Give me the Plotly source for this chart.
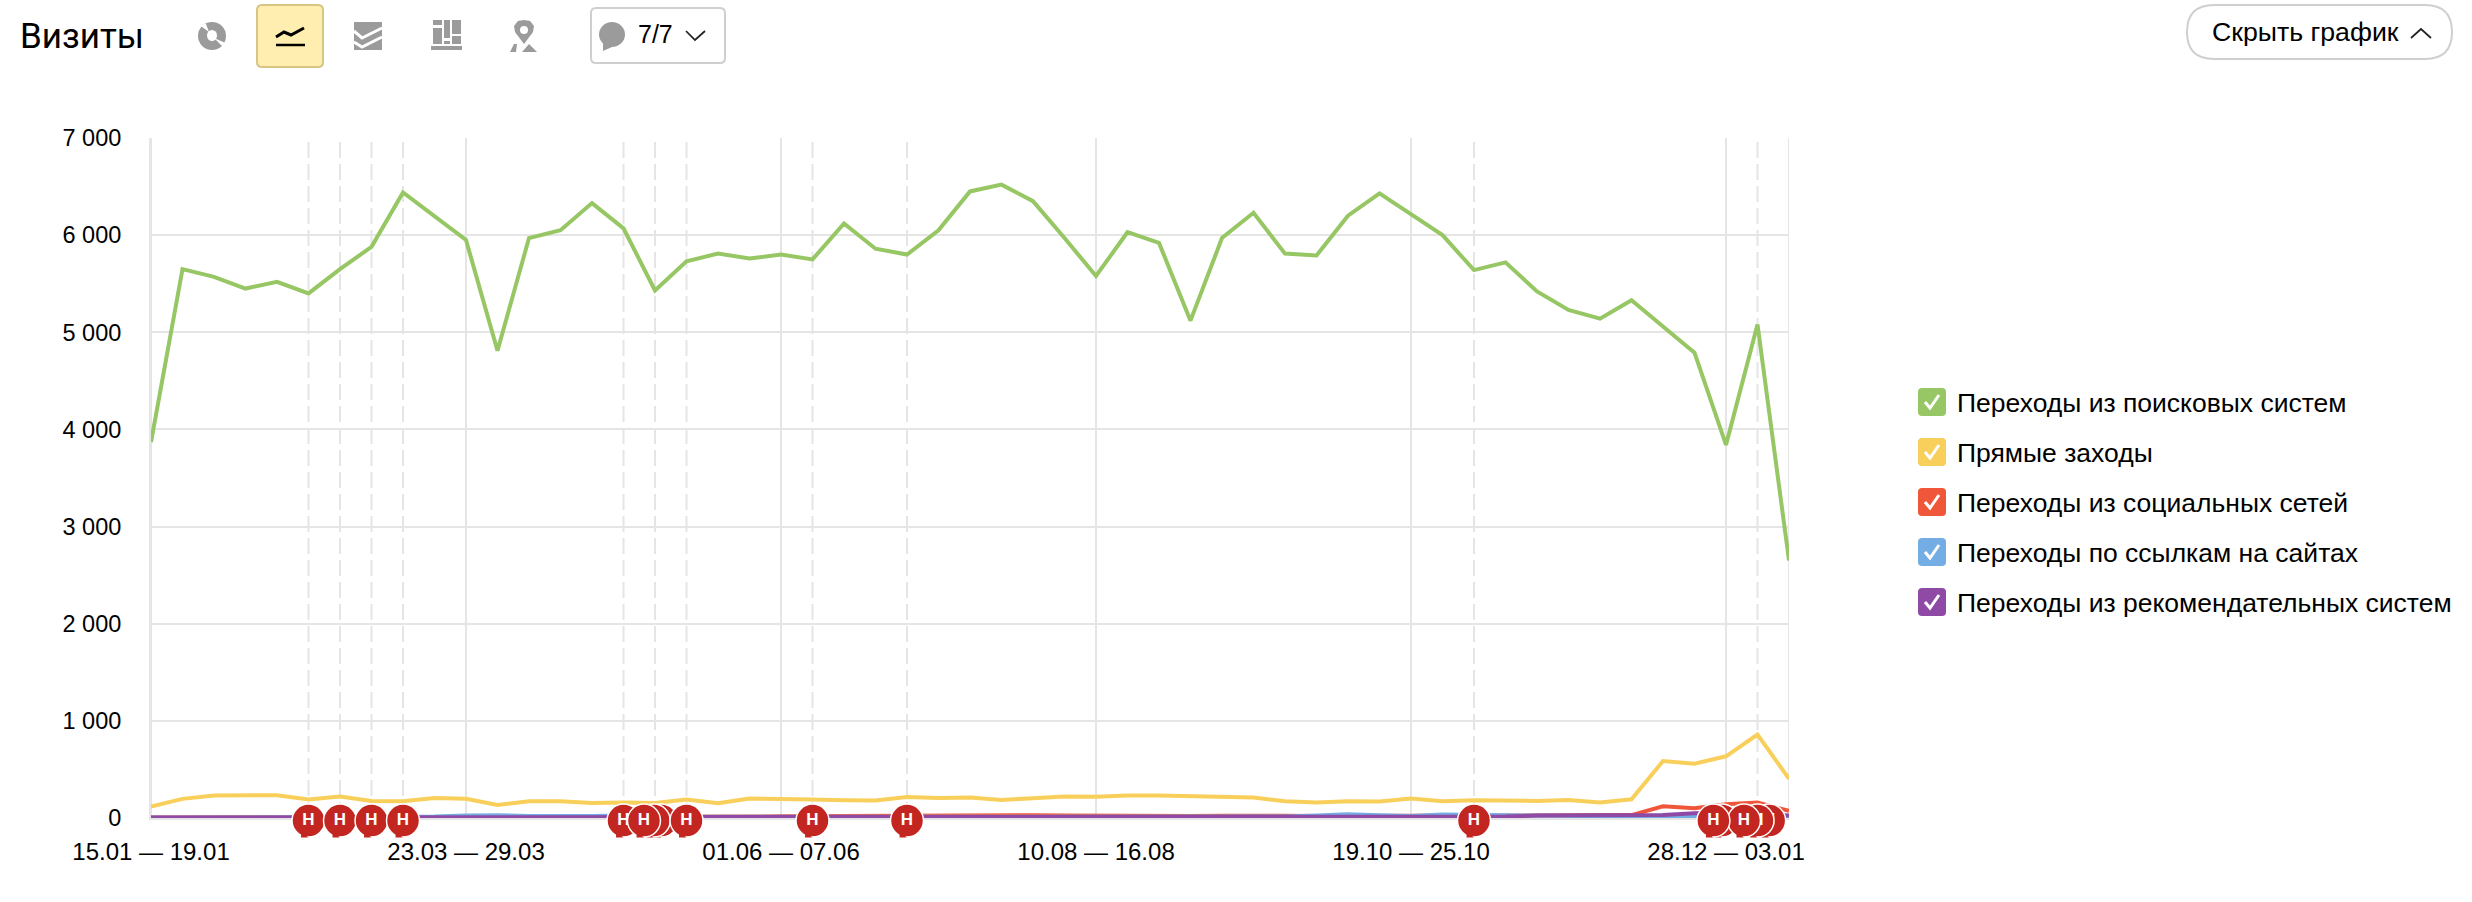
import plotly.graph_objects as go

W, H = 2472, 902
PL, PR, PT, PB = 151, 1789, 138, 818

WEEK_INDEX = list(range(53))
TICK_INDEX = [0, 10, 20, 30, 40, 50]
TICK_LABELS = ["15.01 — 19.01", "23.03 — 29.03", "01.06 — 07.06", "10.08 — 16.08", "19.10 — 25.10", "28.12 — 03.01"]
Y_TICKS = [0, 1000, 2000, 3000, 4000, 5000, 6000, 7000]
Y_LABELS = ["0", "1 000", "2 000", "3 000", "4 000", "5 000", "6 000", "7 000"]

SEARCH = [3870, 5650, 5570, 5450, 5520, 5400, 5650, 5880, 6440, 6200, 5950, 4810, 5970, 6050, 6330, 6070, 5430, 5730,
          5810, 5760, 5800, 5750, 6120, 5860, 5800, 6050, 6450, 6520, 6350, 5970, 5580, 6030, 5920, 5120, 5970, 6230,
          5810, 5790, 6200, 6430, 6220, 6000, 5640, 5720, 5420, 5230, 5140, 5330, 5060, 4790, 3840, 5080, 2650]
DIRECT = [117, 197, 231, 231, 235, 190, 221, 176, 172, 207, 197, 135, 172, 172, 155, 159, 155, 190, 152, 200, 200, 190,
          183, 180, 217, 207, 210, 186, 204, 221, 218, 231, 231, 224, 224, 210, 172, 159, 172, 169, 200, 172, 183, 176,
          176, 186, 159, 193, 586, 559, 635, 859, 404]
SOCIAL = [5, 5, 8, 8, 8, 8, 8, 8, 8, 10, 12, 10, 10, 10, 10, 12, 12, 12, 12, 15, 18, 20, 22, 25, 28, 25, 32, 28, 28, 25,
          22, 18, 20, 20, 22, 25, 22, 20, 20, 20, 25, 20, 20, 22, 25, 28, 25, 30, 121, 100, 142, 159, 73]
LINKS = [2, 5, 8, 10, 10, 8, 8, 8, 10, 15, 25, 28, 20, 18, 20, 25, 15, 12, 12, 15, 12, 12, 12, 12, 12, 12, 12, 12, 12,
         12, 10, 10, 10, 10, 12, 12, 15, 25, 38, 28, 20, 35, 32, 25, 18, 15, 15, 15, 14, 10, 12, 15, 10]
RECOMMEND = [5, 5, 6, 6, 6, 6, 6, 6, 6, 7, 7, 7, 7, 7, 8, 8, 8, 8, 8, 10, 10, 10, 10, 10, 10, 10, 10, 10, 10, 8, 8, 8, 8,
             10, 10, 10, 10, 10, 10, 10, 10, 10, 10, 15, 25, 28, 30, 30, 30, 50, 60, 50, 25]

SERIES_NAMES = ["Переходы из поисковых систем", "Прямые заходы", "Переходы из социальных сетей",
                "Переходы по ссылкам на сайтах", "Переходы из рекомендательных систем"]
SERIES_VALUES = [SEARCH, DIRECT, SOCIAL, LINKS, RECOMMEND]
SERIES_COLORS = ["#97c664", "#f9cf5b", "#f0563a", "#74ade3", "#8e4aa5"]

EVENT_LINES = [5, 6, 7, 8, 15, 16, 17, 21, 24, 42, 51]
# drawing order: first is at the back
BUBBLE_X = [5, 6, 7, 8, 16.2, 15.96, 15, 15.65, 17, 21, 24, 42, 51.37, 51.0, 49.87, 50.57, 49.6]
BUBBLE_LABEL = "Н"

GRID = "#e5e5e5"
FONT = "Liberation Sans"
BUBBLE_RED = "#c32620"


def px(x):
    return x / W


def py(y):
    return 1 - y / H


fig = go.Figure()
for name, vals, col in zip(SERIES_NAMES, SERIES_VALUES, SERIES_COLORS):
    fig.add_trace(go.Scatter(x=WEEK_INDEX, y=vals, name=name, mode="lines", showlegend=False,
                             line=dict(color=col, width=4), cliponaxis=False))

# comment bubbles live on a hidden helper axis that reaches below the zero line;
# one trace each, so that a bubble in front hides the letter of the one behind it
for b in BUBBLE_X:
    fig.add_trace(go.Scatter(x=[b], y=[0.49], yaxis="y2", mode="markers+text", showlegend=False,
                             text=[BUBBLE_LABEL], textposition="middle center", cliponaxis=False,
                             textfont=dict(family=FONT, size=17, color="white", weight="bold"),
                             marker=dict(symbol="circle", size=33, color=BUBBLE_RED, line=dict(color="white", width=1.5))))
    fig.add_trace(go.Scatter(x=[b - 0.16], y=[0.25], yaxis="y2", mode="markers", showlegend=False,
                             hoverinfo="skip", cliponaxis=False,
                             marker=dict(symbol="triangle-sw", size=8, color=BUBBLE_RED, line=dict(width=0))))

shapes = []
for e in EVENT_LINES:
    shapes.append(dict(type="line", xref="x", yref="paper", x0=e, x1=e, y0=py(PB), y1=py(PT), layer="below",
                       line=dict(color=GRID, width=2, dash="16px,6px")))
for t in TICK_INDEX + [52]:
    shapes.append(dict(type="line", xref="x", yref="paper", x0=t, x1=t, y0=py(PB), y1=py(PT), layer="below",
                       line=dict(color=GRID, width=2)))


def rrect(x0, y0, x1, y1, r):
    return (f"M{px(x0+r)},{py(y0)} L{px(x1-r)},{py(y0)} Q{px(x1)},{py(y0)} {px(x1)},{py(y0+r)} "
            f"L{px(x1)},{py(y1-r)} Q{px(x1)},{py(y1)} {px(x1-r)},{py(y1)} L{px(x0+r)},{py(y1)} "
            f"Q{px(x0)},{py(y1)} {px(x0)},{py(y1-r)} L{px(x0)},{py(y0+r)} Q{px(x0)},{py(y0)} {px(x0+r)},{py(y0)} Z")


def poly(points, close=False):
    s = "M" + " L".join(f"{px(a)},{py(b)}" for a, b in points)
    return s + (" Z" if close else "")


def paper_shape(path, fill=None, line=None, width=0):
    d = dict(type="path", xref="paper", yref="paper", path=path, layer="above")
    d["fillcolor"] = fill if fill else "rgba(0,0,0,0)"
    d["line"] = dict(color=line if line else "rgba(0,0,0,0)", width=width)
    shapes.append(d)


def circle(x0, y0, x1, y1, fill):
    shapes.append(dict(type="circle", xref="paper", yref="paper", x0=px(x0), x1=px(x1), y0=py(y0), y1=py(y1),
                       fillcolor=fill, line=dict(width=0), layer="above"))


ICON = "#9b9b9b"

# toolbar: pie icon
circle(198, 22, 226, 50, ICON)
circle(207, 30, 217, 41, "white")
paper_shape(poly([(214, 38), (224, 48), (228, 44)], True), fill="white")
paper_shape(poly([(198, 24), (206, 24), (209, 32)], True), fill="white")
# active line button
paper_shape(rrect(257, 5, 323, 67, 5), fill="#ffeeb0", line="#d6c683", width=2)
paper_shape(poly([(276, 37), (284, 32), (291, 35), (304, 28)]), line="black", width=3)
paper_shape(poly([(276, 45), (305, 45)]), line="black", width=2.5)
# stacked icon
paper_shape(poly([(354, 22), (382, 22), (382, 50), (354, 50)], True), fill=ICON)
paper_shape(poly([(354, 31), (362, 38), (382, 28)]), line="white", width=3)
paper_shape(poly([(354, 42), (362, 47), (382, 37)]), line="white", width=3)
# bars icon
for x0, y0, x1, y1 in [(433, 20, 442, 25), (433, 28, 442, 44), (444, 20, 450, 38), (444, 41, 450, 44), (452, 20, 461, 34),
                       (452, 36, 461, 44), (431, 46, 462, 50)]:
    paper_shape(poly([(x0, y0), (x1, y0), (x1, y1), (x0, y1)], True), fill=ICON)
# pin icon
paper_shape(poly([(524, 44), (515, 32), (514, 26), (518, 21), (524, 20), (530, 21), (534, 26), (533, 32)], True), fill=ICON)
circle(520, 26, 528, 34, "white")
paper_shape(poly([(510, 52), (514, 44), (517, 44), (516, 52)], True), fill=ICON)
paper_shape(poly([(522, 52), (529, 44), (537, 52)], True), fill=ICON)
# comments dropdown
paper_shape(rrect(591, 8, 725, 63, 5), fill="white", line="#cfcfcf", width=2)
circle(599, 22, 625, 47, ICON)
paper_shape(poly([(603, 42), (603, 51), (612, 47)], True), fill=ICON)
paper_shape(poly([(686, 31), (695, 40), (705, 31)]), line="#222222", width=1.7)
# hide button
paper_shape(rrect(2187, 5, 2452, 59, 27), fill="white", line="#cfcfcf", width=2)
paper_shape(poly([(2411, 38), (2421, 29), (2431, 38)]), line="#222222", width=1.7)

# legend swatches with checks
LEGEND_ROW_Y = [402, 452, 502, 552, 602]
annotations = []
for name, col, yc in zip(SERIES_NAMES, SERIES_COLORS, LEGEND_ROW_Y):
    paper_shape(rrect(1918, yc - 14, 1946, yc + 14, 4), fill=col)
    paper_shape(poly([(1925, yc), (1930, yc + 6), (1939, yc - 7)]), line="white", width=3)
    annotations.append(dict(xref="paper", yref="paper", x=px(1955), y=py(yc + 1), text=name, showarrow=False,
                            xanchor="left", yanchor="middle", font=dict(family=FONT, size=26.5, color="black")))

annotations.append(dict(xref="paper", yref="paper", x=px(18), y=py(36), text="Визиты", showarrow=False,
                        xanchor="left", yanchor="middle", font=dict(family="Roboto", size=35, color="black")))
annotations.append(dict(xref="paper", yref="paper", x=px(636), y=py(34), text="7/7", showarrow=False,
                        xanchor="left", yanchor="middle", font=dict(family=FONT, size=25, color="black")))
annotations.append(dict(xref="paper", yref="paper", x=px(2210), y=py(32), text="Скрыть график", showarrow=False,
                        xanchor="left", yanchor="middle", font=dict(family=FONT, size=26.7, color="black")))

fig.update_layout(
    width=W, height=H, margin=dict(l=0, r=0, t=0, b=0), paper_bgcolor="white", plot_bgcolor="rgba(0,0,0,0)",
    showlegend=False, shapes=shapes, annotations=annotations,
    font=dict(family=FONT, size=23, color="black"),
    xaxis=dict(domain=[px(PL), px(PR)], range=[0, 52], tickmode="array", tickvals=TICK_INDEX, ticktext=TICK_LABELS,
               showgrid=False, zeroline=False, showline=True, linecolor=GRID, linewidth=2, automargin=False,
               ticks="outside", ticklen=11, tickcolor="rgba(0,0,0,0)", tickfont=dict(size=24, family=FONT), tickangle=0),
    yaxis=dict(domain=[py(PB), py(PT)], range=[0, 7000], tickmode="array", tickvals=Y_TICKS, ticktext=Y_LABELS,
               showgrid=True, gridcolor=GRID, gridwidth=2, zeroline=False, showline=True, linecolor=GRID, linewidth=2,
               automargin=False, ticks="outside", ticklen=23, tickcolor="rgba(0,0,0,0)",
               tickfont=dict(size=23.5, family=FONT)),
    yaxis2=dict(domain=[py(850), py(790)], range=[0, 1], visible=False, anchor="x", fixedrange=True),
)

fig.write_html("out.html", config={"displayModeBar": False},
               post_script="document.body.style.margin='0';document.documentElement.style.overflow='hidden';")
